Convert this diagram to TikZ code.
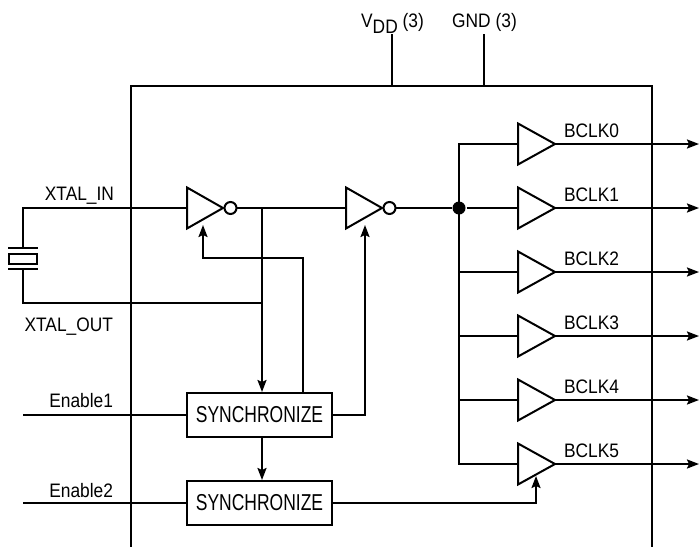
\documentclass[tikz,border=0pt]{standalone}
\usepackage{fontspec}
\setmainfont{Liberation Sans}[FakeStretch=0.89]
\newfontfamily\syncfont{Liberation Sans}[FakeStretch=0.76]
\usetikzlibrary{arrows.meta}
\begin{document}
\begin{tikzpicture}[x=1pt,y=-1pt,line width=2pt,
  lbl/.style={font=\fontsize{19.5}{22}\selectfont,inner sep=0},
  syncbox/.style={draw,minimum width=145pt,minimum height=44pt,inner sep=0,
    font=\syncfont\fontsize{23}{26}\selectfont},
  gate/.style={inner sep=0,outer sep=0,minimum width=36pt,minimum height=41pt},
  bufgate/.style={inner sep=0,outer sep=0,minimum width=37pt,minimum height=41pt},
  bubble/.style={draw,circle,inner sep=0,outer sep=0,minimum size=12pt},
  arr/.style={-{Stealth[length=12pt,width=9pt,inset=2pt]}},
  junction/.style={circle,fill,inner sep=0,minimum size=13pt}]
\useasboundingbox (0,0) rectangle (700,546);

% package outline
\draw (131,548) -- (131,86) -- (652,86) -- (652,548);

% supply pins
\node[lbl,anchor=base] (vdd) at (392.5,27) {V\raisebox{-6pt}{DD} (3)};
\node[lbl,anchor=base] (gnd) at (484.5,27) {GND (3)};
\coordinate (vddt) at (392,34); \coordinate (vddb) at (392,86);
\coordinate (gndt) at (484,34); \coordinate (gndb) at (484,86);
\draw (vddt) -- (vddb);
\draw (gndt) -- (gndb);

% inverters
\node[gate] (inv1) at (205,208) {};
\draw (inv1.north west) -- (inv1.east) -- (inv1.south west) -- cycle;
\node[bubble] (bub1) at (230.5,208) {};
\node[gate] (inv2) at (364,208) {};
\draw (inv2.north west) -- (inv2.east) -- (inv2.south west) -- cycle;
\node[bubble] (bub2) at (389.5,208) {};

% synchronizers
\node[syncbox] (sync1) at (259.5,415) {SYNCHRONIZE};
\node[syncbox] (sync2) at (259.5,503) {SYNCHRONIZE};

% crystal
\coordinate (xtl) at (23,208);
\coordinate (xbl) at (23,303);
\coordinate (tapt) at (262,208);
\coordinate (tapb) at (262,303);
\draw (inv1.west) -- (xtl) -- (23,247.5);
\draw (8,247.5) -- (38,247.5);
\draw (9,253.5) rectangle (37,263.5);
\draw (8,269.3) -- (38,269.3);
\draw (23,269.3) -- (xbl) -- (tapb);
\node[lbl,anchor=base east] at (115,200) {XTAL\_IN};
\node[lbl,anchor=base east] at (114,331) {XTAL\_OUT};

% chain
\draw (bub1.east) -- (inv2.west);
\draw[arr] (tapt) -- (tapt |- sync1.north);
\draw[arr] (sync1.north -| 303,0) -- (303,258) -- (203,258) -- (203,225);
\draw[arr] (sync1.east) -- (365,415) -- (365,225);
\draw[arr] (sync1.south -| 262,0) -- (sync2.north -| 262,0);

% enables
\coordinate (en1) at (23,415);
\coordinate (en2) at (23,503);
\draw (en1) -- (sync1.west);
\draw (en2) -- (sync2.west);
\node[lbl,anchor=base east] at (114,407) {Enable1};
\node[lbl,anchor=base east] at (114,497) {Enable2};

% buffers
\foreach \k/\y in {0/144,1/208,2/272,3/336,4/400,5/464}{
  \node[bufgate] (buf\k) at (536.5,\y) {};
  \draw (buf\k.north west) -- (buf\k.east) -- (buf\k.south west) -- cycle;
  \coordinate (out\k) at (699,\y);
  \draw[arr] (buf\k.east) -- (out\k);
  \node[lbl,anchor=base west] at (563,\y-7) {BCLK\k};
}
\node[junction] (jn) at (459,208) {};
\draw (bub2.east) -- (jn) -- (buf1.west);
\draw (buf0.west) -- (buf0.west -| jn) -- (buf5.west -| jn) -- (buf5.west);
\foreach \k in {2,3,4}{ \draw (buf\k.west -| jn) -- (buf\k.west); }

% BCLK5 enable
\draw[arr] (sync2.east) -- (536,503) -- (536,476);
\end{tikzpicture}
\end{document}
